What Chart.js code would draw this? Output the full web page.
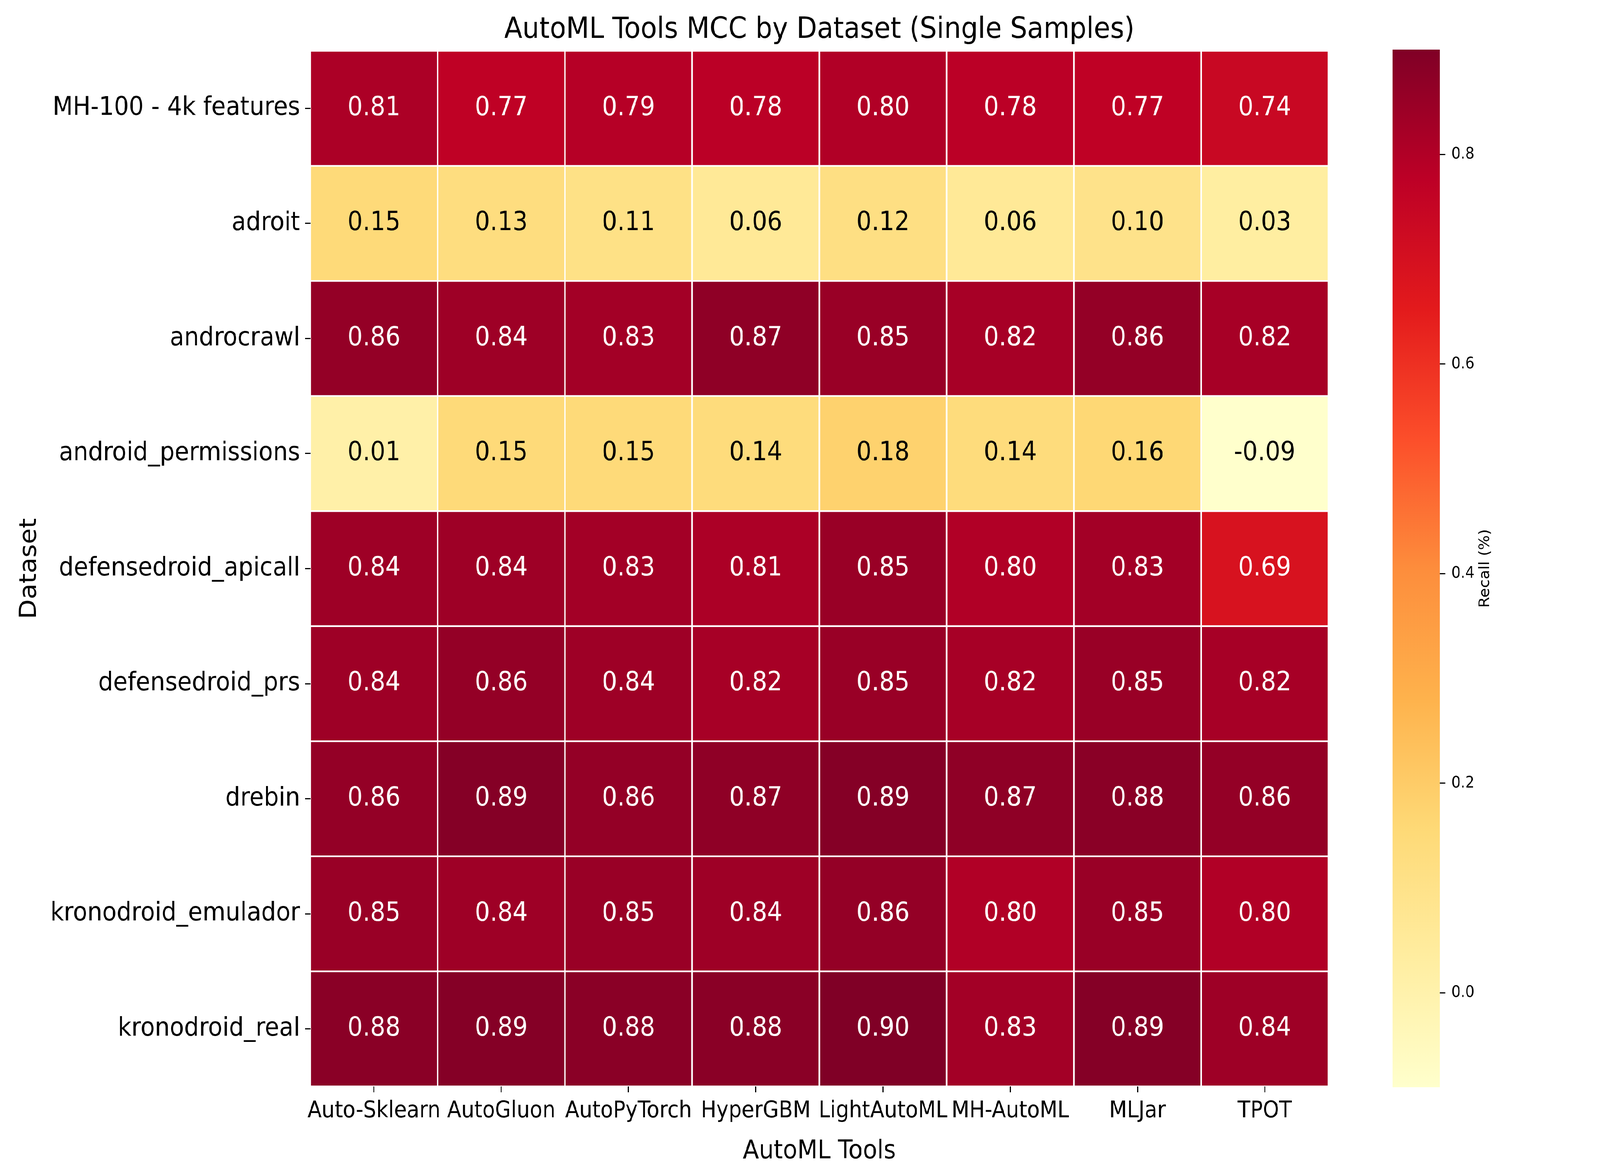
<!DOCTYPE html>
<html lang="en">
<head>
<meta charset="UTF-8">
<title>AutoML Tools MCC by Dataset (Single Samples)</title>
<script src="https://cdn.jsdelivr.net/npm/chart.js"></script>
<style>
    html, body { margin: 0; padding: 0; background: #fff; overflow: hidden; }
    #frame { position: relative; overflow: hidden; background: #fff; }
    #wrap { position: absolute; left: 0; top: 0; width: 4500px; height: 3000px; background: #fff; transform-origin: 0 0; }
    #heat { position: absolute; left: 0; top: 0; }
    #bar { position: absolute; left: 3850px; top: 0; }
</style>
</head>
<body>
<div id="frame">
<div id="wrap">
    <canvas id="heat" width="3850" height="3000"></canvas>
    <canvas id="bar" width="650" height="3000"></canvas>
</div>
</div>
<script>
// columns and rows
const tools = ['Auto-Sklearn', 'AutoGluon', 'AutoPyTorch', 'HyperGBM', 'LightAutoML', 'MH-AutoML', 'MLJar', 'TPOT'];
const datasets = ['MH-100 - 4k features', 'adroit', 'androcrawl', 'android_permissions', 'defensedroid_apicall',
    'defensedroid_prs', 'drebin', 'kronodroid_emulador', 'kronodroid_real'];

// MCC per dataset, one value per tool
const mh100 = [0.81, 0.77, 0.79, 0.78, 0.80, 0.78, 0.77, 0.74];
const adroit = [0.15, 0.13, 0.11, 0.06, 0.12, 0.06, 0.10, 0.03];
const androcrawl = [0.86, 0.84, 0.83, 0.87, 0.85, 0.82, 0.86, 0.82];
const androidPermissions = [0.01, 0.15, 0.15, 0.14, 0.18, 0.14, 0.16, -0.09];
const defensedroidApicall = [0.84, 0.84, 0.83, 0.81, 0.85, 0.80, 0.83, 0.69];
const defensedroidPrs = [0.84, 0.86, 0.84, 0.82, 0.85, 0.82, 0.85, 0.82];
const drebin = [0.86, 0.89, 0.86, 0.87, 0.89, 0.87, 0.88, 0.86];
const kronodroidEmulador = [0.85, 0.84, 0.85, 0.84, 0.86, 0.80, 0.85, 0.80];
const kronodroidReal = [0.88, 0.89, 0.88, 0.88, 0.90, 0.83, 0.89, 0.84];
const mcc = [mh100, adroit, androcrawl, androidPermissions, defensedroidApicall,
    defensedroidPrs, drebin, kronodroidEmulador, kronodroidReal];

// colorbar ticks
const cbarTicks = [0.0, 0.2, 0.4, 0.6, 0.8];

const vmin = Math.min(...mcc.flat());
const vmax = Math.max(...mcc.flat());

// matplotlib YlOrRd
const ylOrRd = ['#ffffcc', '#ffeda0', '#fed976', '#feb24c', '#fd8d3c', '#fc4e2a', '#e31a1c', '#bd0026', '#800026'];

// the window is narrower than 4500 css px, so stretch the 4500x3000 figure over the whole viewport
const sx = window.innerWidth / 4500;
const sy = window.innerHeight / 3000;
const frame = document.getElementById('frame');
frame.style.width = window.innerWidth + 'px';
frame.style.height = window.innerHeight + 'px';
document.getElementById('wrap').style.transform = `scale(${sx}, ${sy})`;

function hexToRgb(h) {
    return [parseInt(h.slice(1, 3), 16), parseInt(h.slice(3, 5), 16), parseInt(h.slice(5, 7), 16)];
}
function cmap(v) {
    let t = (v - vmin) / (vmax - vmin);
    t = Math.max(0, Math.min(1, t));
    const pos = t * (ylOrRd.length - 1);
    const i = Math.min(Math.floor(pos), ylOrRd.length - 2);
    const f = pos - i;
    const a = hexToRgb(ylOrRd[i]), b = hexToRgb(ylOrRd[i + 1]);
    return a.map((c, k) => Math.round(c + (b[k] - c) * f));
}
function rgbStr(c) { return `rgb(${c[0]},${c[1]},${c[2]})`; }
function textColor(c) {
    const lin = c.map(x => { x /= 255; return x <= 0.03928 ? x / 12.92 : Math.pow((x + 0.055) / 1.055, 2.4); });
    const lum = 0.2126 * lin[0] + 0.7152 * lin[1] + 0.0722 * lin[2];
    return lum > 0.408 ? '#000' : '#fff';
}

Chart.defaults.font.family = "'DejaVu Sans', sans-serif";
Chart.defaults.color = '#000';

const annotate = {
    id: 'annotate',
    afterDatasetsDraw(chart) {
        const ctx = chart.ctx;
        ctx.save();
        ctx.font = "67px 'DejaVu Sans'";
        ctx.textAlign = 'center';
        ctx.textBaseline = 'middle';
        chart.data.datasets.forEach((ds, i) => {
            chart.getDatasetMeta(i).data.forEach((el, j) => {
                const v = mcc[i][j];
                ctx.fillStyle = textColor(cmap(v));
                ctx.fillText(v.toFixed(2), el.x, (el.y + el.base) / 2);
            });
        });
        ctx.restore();
    }
};

// heatmap: one stacked row of unit cells per dataset
new Chart(document.getElementById('heat'), {
    type: 'bar',
    data: {
        labels: tools,
        datasets: datasets.map((name, i) => ({
            label: name,
            data: tools.map(() => 1),
            backgroundColor: mcc[i].map(v => rgbStr(cmap(v))),
            borderColor: '#fff',
            borderWidth: 2.5,
            borderSkipped: false,
            barPercentage: 1,
            categoryPercentage: 1
        }))
    },
    options: {
        responsive: false,
        devicePixelRatio: 1,
        animation: false,
        layout: { padding: { top: 0, right: 114, bottom: 0, left: 0 } },
        plugins: {
            legend: { display: false },
            tooltip: { enabled: false },
            title: {
                display: true,
                text: 'AutoML Tools MCC by Dataset (Single Samples)',
                fullSize: false,
                font: { size: 75, weight: 'normal', lineHeight: 1.2 },
                padding: { top: 33, bottom: 7 },
                color: '#000'
            }
        },
        scales: {
            x: {
                stacked: true,
                border: { display: false },
                grid: { display: true, offset: false, drawOnChartArea: false, drawTicks: true,
                    tickLength: 15, tickWidth: 3, tickColor: '#000' },
                ticks: { autoSkip: false, maxRotation: 0, minRotation: 0, padding: 14,
                    font: { size: 58 }, color: '#000' },
                title: { display: true, text: 'AutoML Tools', font: { size: 66, lineHeight: 1.2 },
                    padding: { top: 0, bottom: 13 }, color: '#000' },
                afterFit(s) { s.height = 219; }
            },
            y: {
                type: 'linear',
                stacked: true,
                reverse: true,
                min: 0,
                max: datasets.length,
                border: { display: false },
                grid: { display: true, drawOnChartArea: false, drawTicks: true,
                    tickLength: 15, tickWidth: 3, tickColor: '#000' },
                afterBuildTicks(s) { s.ticks = datasets.map((d, i) => ({ value: i + 0.5 })); },
                ticks: { padding: 14, font: { size: 66 }, color: '#000',
                    callback: v => datasets[Math.floor(v)] },
                title: { display: true, text: 'Dataset', font: { size: 66, lineHeight: 1.2 },
                    padding: { top: 44, bottom: 0 }, color: '#000' },
                afterFit(s) { s.width = 873; }
            }
        }
    },
    plugins: [annotate]
});

const cbarLabel = {
    id: 'cbarLabel',
    afterDraw(chart) {
        const ctx = chart.ctx, a = chart.chartArea;
        ctx.save();
        ctx.translate(328, (a.top + a.bottom) / 2);
        ctx.rotate(-Math.PI / 2);
        ctx.font = "40px 'DejaVu Sans'";
        ctx.fillStyle = '#000';
        ctx.textAlign = 'center';
        ctx.textBaseline = 'middle';
        ctx.fillText('Recall (%)', 0, 0);
        ctx.restore();
    }
};

// colorbar: one floating bar over the value range with the colormap as gradient
new Chart(document.getElementById('bar'), {
    type: 'bar',
    data: {
        labels: ['MCC'],
        datasets: [{
            data: [[vmin, vmax]],
            backgroundColor(c) {
                const chart = c.chart;
                if (!chart.chartArea) return ylOrRd[4];
                const y = chart.scales.y;
                const g = chart.ctx.createLinearGradient(0, y.getPixelForValue(vmin), 0, y.getPixelForValue(vmax));
                ylOrRd.forEach((col, i) => g.addColorStop(i / (ylOrRd.length - 1), col));
                return g;
            },
            borderWidth: 0,
            barPercentage: 1,
            categoryPercentage: 1
        }]
    },
    options: {
        responsive: false,
        devicePixelRatio: 1,
        animation: false,
        layout: { padding: { top: 127, right: 0, bottom: 217, left: 67 } },
        plugins: { legend: { display: false }, tooltip: { enabled: false } },
        scales: {
            x: { display: false },
            y: {
                position: 'right',
                min: vmin,
                max: vmax,
                border: { display: false },
                grid: { display: true, drawOnChartArea: false, drawTicks: true,
                    tickLength: 15, tickWidth: 3, tickColor: '#000' },
                afterBuildTicks(s) { s.ticks = cbarTicks.map(v => ({ value: v })); },
                ticks: { padding: 17, font: { size: 41 }, color: '#000',
                    callback: v => v.toFixed(1) },
                afterFit(s) { s.width = 450; }
            }
        }
    },
    plugins: [cbarLabel]
});
</script>
</body>
</html>
